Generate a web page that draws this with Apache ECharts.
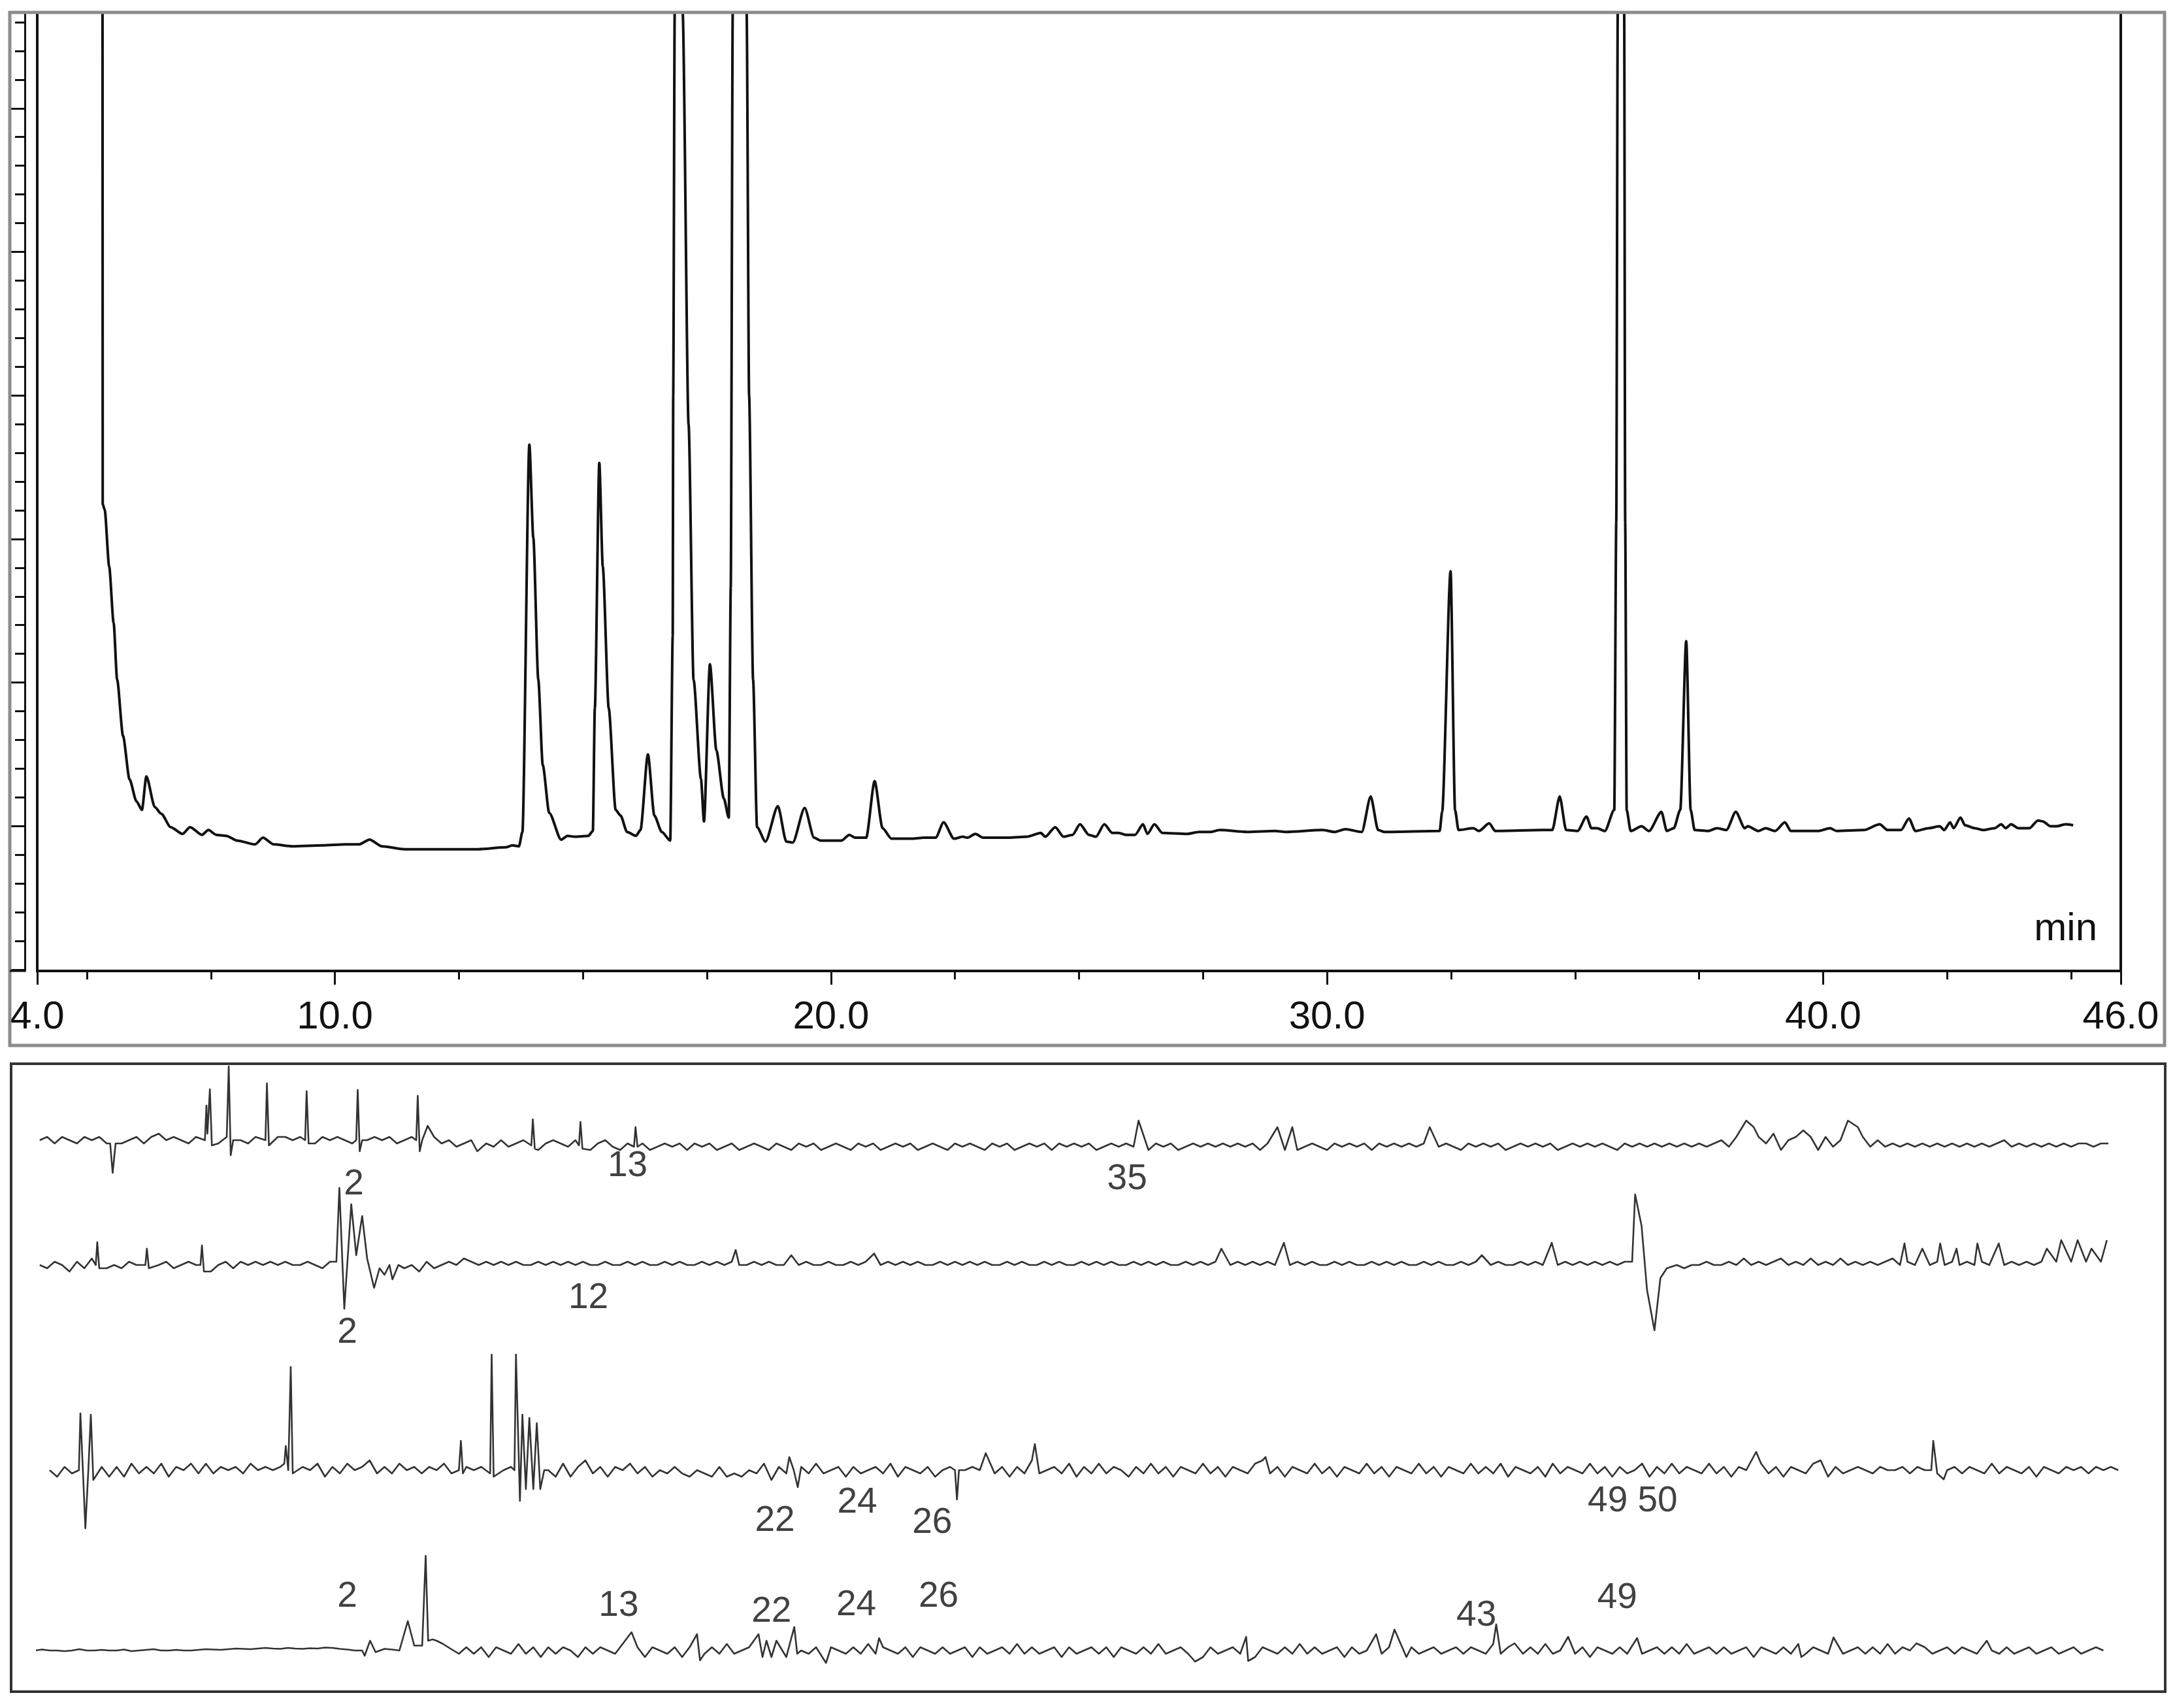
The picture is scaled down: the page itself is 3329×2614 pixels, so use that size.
<!DOCTYPE html>
<html>
<head>
<meta charset="utf-8">
<title>Chromatogram</title>
<script src="https://cdn.jsdelivr.net/npm/echarts/dist/echarts.min.js"></script>
<style>
  html, body { margin: 0; padding: 0; background: #fff; }
  #chart { width: 3329px; height: 2614px; }
</style>
</head>
<body>
<div id="chart"></div>
<script>
// ---- top chromatogram: [time (min), signal] ----
var topTrace = [
  [5.31,200],[5.32,48.7],[5.36,48.1],[5.45,42.2],[5.54,36.3],[5.61,30.4],[5.73,24.5],[5.86,20.0],[6.00,17.7],[6.11,16.8],
  [6.20,20.3],[6.37,17.1],[6.50,16.4],[6.69,15.0],[6.93,14.3],[7.08,15.0],[7.32,14.2],[7.45,14.7],[7.61,14.2],[7.81,14.1],
  [8.03,13.6],[8.39,13.2],[8.55,13.9],[8.77,13.2],[9.14,13.0],[9.75,13.1],[10.21,13.2],[10.48,13.2],[10.70,13.7],[10.95,13.0],
  [11.41,12.7],[11.96,12.7],[12.88,12.7],[13.44,12.9],[13.58,13.1],[13.71,13.0],[13.78,14.5],[13.92,54.9],[14.00,45.2],[14.10,30.4],
  [14.19,21.5],[14.32,16.5],[14.56,13.7],[14.69,14.1],[14.83,14.0],[15.11,14.1],[15.20,14.6],[15.24,27.4],[15.33,53.0],[15.40,42.2],
  [15.52,27.4],[15.66,16.8],[15.76,16.2],[15.89,14.5],[16.07,14.1],[16.16,14.7],[16.31,22.6],[16.44,16.2],[16.59,14.5],[16.76,13.6],
  [16.81,35],[16.82,60],[16.85,100],[16.93,170],[17.01,100],[17.13,57],[17.23,30.4],[17.38,20.0],[17.44,15.6],[17.56,32.0],
  [17.69,23.0],[17.84,18.0],[17.94,16.0],[17.98,40],[18.02,100],[18.15,300],[18.30,100],[18.35,60],[18.43,30.4],[18.51,15.0],
  [18.68,13.5],[18.93,17.2],[19.10,13.5],[19.23,13.4],[19.47,17.0],[19.66,13.9],[19.79,13.6],[20.21,13.6],[20.37,14.2],[20.49,13.9],
  [20.71,13.9],[20.88,19.8],[21.04,14.9],[21.22,13.8],[21.65,13.8],[21.87,13.9],[22.11,13.9],[22.27,15.5],[22.48,13.8],[22.66,14.0],
  [22.75,13.9],[22.91,14.3],[23.07,13.9],[23.58,13.9],[23.95,14.0],[24.23,14.4],[24.32,14.0],[24.52,15.0],[24.69,14.0],[24.87,14.2],
  [25.02,15.3],[25.20,14.2],[25.34,14.0],[25.51,15.3],[25.67,14.4],[25.80,14.4],[25.94,14.2],[26.13,14.2],[26.29,15.3],[26.38,14.3],
  [26.52,15.3],[26.68,14.4],[27.18,14.3],[27.42,14.5],[27.64,14.5],[27.84,14.7],[28.39,14.5],[28.95,14.6],[29.17,14.5],[29.91,14.7],
  [30.15,14.5],[30.37,14.8],[30.70,14.5],[30.88,18.2],[31.03,14.7],[31.16,14.5],[32.27,14.6],[32.32,16.6],[32.49,41.7],[32.58,16.8],
  [32.65,14.7],[32.95,14.9],[33.06,14.6],[33.27,15.4],[33.39,14.6],[34.35,14.7],[34.54,14.7],[34.69,18.2],[34.82,14.7],[35.05,14.6],
  [35.23,16.1],[35.33,14.9],[35.44,14.9],[35.60,14.6],[35.79,16.8],[35.83,46.8],[35.86,100],[35.92,200],[35.99,100],[36.01,46.8],
  [36.04,16.8],[36.12,14.6],[36.34,15.1],[36.49,14.6],[36.74,16.6],[36.85,14.6],[36.99,14.9],[37.12,16.8],[37.24,34.4],[37.33,16.8],
  [37.41,14.7],[37.68,14.6],[37.86,14.9],[38.05,14.7],[38.24,16.6],[38.42,14.9],[38.48,15.1],[38.70,14.6],[38.84,14.9],[39.03,14.6],
  [39.23,15.5],[39.35,14.6],[39.90,14.6],[40.14,14.9],[40.27,14.6],[40.82,14.7],[41.14,15.3],[41.30,14.7],[41.57,14.7],[41.73,15.9],
  [41.86,14.6],[42.13,14.9],[42.35,15.1],[42.44,14.7],[42.56,15.5],[42.63,14.9],[42.77,16.0],[42.86,15.2],[43.05,14.9],[43.23,14.7],
  [43.46,14.9],[43.59,15.3],[43.68,14.9],[43.79,15.3],[43.93,14.9],[44.16,14.9],[44.33,15.7],[44.43,15.6],[44.58,15.1],[44.71,15.1],
  [44.89,15.3],[45.04,15.2]
];

var topMinorTicks = [5, 7.5, 12.5, 15, 17.5, 22.5, 25, 27.5, 32.5, 35, 37.5, 42.5, 45];
var topMajorTicks = [4, 10, 20, 30, 40, 46];
var stripTicks = [0,1,2,3,4,5,6,7,8,9,10,11,12,13,14,15,16,17,18,19,20,21,22,23,24,25,26,27,28,29,30,31,32,33];
var stripMajorTicks = [0, 5, 10, 15, 20, 25, 30];

// ---- lower traces: noise sampled every lowerStep min from a start time, plus read peaks [time, value] ----
var lowerStep = 0.15;

var trace1Start = 4.05;
var trace1Noise = [
  0,1,-1,1,0,-1,1,0,1,-1,   0,-1,0,1,-1,1,2,0,1,0,   -1,1,0,1,-1,0,1,0,-1,1,
  0,-1,1,1,0,1,0,-1,1,0,    1,0,-1,1,0,1,0,1,-1,0,   1,0,2,1,-1,0,-2,-1,0,-3,
  -1,-2,0,-2,-1,0,-1,-3,-1,0,  -1,-2,0,-2,-3,-1,0,-2,-3,-1,  -2,-1,-3,-2,-1,-2,-1,-3,-1,-2,
  -1,-3,-2,-1,-3,-2,-1,-2,-3,-1,  -2,-3,-1,-2,-1,-3,-2,-1,-2,-3,  -1,-2,-1,-3,-2,-1,-2,-1,-3,-2,
  -1,-2,-3,-1,-2,-1,-2,-3,-1,-2,  -1,-3,-2,-1,-2,-1,-3,-1,-2,-1,  -2,-1,-3,-2,-1,-2,-1,-2,-1,-3,
  -1,-2,-1,-3,-2,-1,-2,-1,-2,-1,  -2,-1,-2,-1,-3,-1,-3,-1,-2,-1,  -2,-1,-2,-3,-1,-2,-1,-2,-1,-3,
  -1,-2,-1,-2,-1,-2,-1,-2,-2,-1,  -2,-3,-1,-2,-1,-2,-1,-3,-2,-1,  -2,-1,-2,-1,-3,-2,-1,-2,-1,-2,
  -1,-2,-3,-1,-2,-1,-2,-1,-2,-1,  -2,-1,-2,-1,-2,-1,0,-2,1,-1,  -3,1,-1,2,-3,0,1,-2,1,-3,
  1,-2,0,1,-3,1,-2,0,-2,-1,  -2,-1,-2,-1,-2,-1,-2,-1,-2,-1,  -2,-1,-2,-1,0,-2,-1,-2,-1,-2,
  -1,-2,-1,-2,-1,-1,-2,-1,-1
];
var trace1Peaks = [
  [5.47,-1],[5.52,-10],[5.58,-1],
  [7.38,0],[7.41,10.6],[7.43,2],[7.48,15.6],[7.52,-1.6],
  [7.82,1],[7.86,22.6],[7.90,-4.6],[7.95,0],
  [8.60,0],[8.63,17.4],[8.67,-1.6],
  [9.40,0],[9.43,15],[9.47,-1],
  [10.43,0],[10.46,15.4],[10.50,-3.4],[10.55,0],
  [11.64,0],[11.67,13.6],[11.71,-3.4],[11.76,0],[11.87,4.4],
  [12.87,-3.4],
  [13.96,-1.6],[13.99,6.4],[14.03,-2.6],
  [14.92,-1.6],[14.95,5.6],[14.99,-2.6],
  [16.03,-2],[16.06,4],[16.10,-2],
  [26.20,6],[29.00,4],[29.15,-3],[29.30,4],[29.40,-3],[32.07,4],
  [38.45,6],[38.60,4],[39.60,3],[40.50,6],[40.70,4]
];

var trace2Start = 4.05;
var trace2Noise = [
  0,-1,1,0,-2,1,-1,2,0,-1,  0,-1,1,0,1,-1,0,1,-1,0,  1,0,1,-2,0,1,-1,1,0,1,
  0,1,0,1,0,0,1,0,-1,1,  0,-1,1,0,1,-1,-1,0,1,-1,  0,-2,1,-1,0,1,0,2,1,0,
  1,0,1,0,1,0,0,1,0,1,  0,1,0,1,0,0,1,0,0,1,  0,1,0,0,1,0,1,0,0,1,
  0,1,0,1,0,0,1,0,1,0,  0,1,0,1,0,0,1,0,0,1,  0,1,0,0,1,0,1,0,1,0,
  0,1,0,1,0,1,0,1,0,0,  1,0,1,0,0,1,0,1,0,0,  1,0,1,0,1,0,0,1,0,1,
  0,1,0,0,1,0,1,0,1,0,  0,1,0,1,0,1,0,1,0,1,  0,1,0,0,1,0,1,0,0,1,
  0,1,0,1,0,0,1,0,1,0,  0,1,0,1,0,0,1,0,0,1,  0,1,0,1,0,1,0,1,0,1,
  0,1,0,1,0,0,0,0,0,-1,  0,-1,0,0,1,0,0,1,0,2,  0,1,0,1,2,0,1,0,2,0,
  1,0,2,0,1,0,1,0,1,2,  0,1,0,1,0,1,0,1,0,1,  0,1,0,1,0,1,0,1,0,1,
  0,1,0,1,0,1,0,1,0
];
var trace2Peaks = [
  [5.18,0],[5.21,7],[5.25,-1],
  [6.18,0],[6.21,5],[6.25,-1],
  [7.29,0],[7.32,6],[7.36,-2],
  [10.03,1],[10.09,23.6],[10.19,-13.4],[10.33,18.6],[10.43,3],[10.55,15],[10.65,2],[10.79,-7],[10.90,-1],[11.00,-3],[11.16,-4.4],[11.28,0],
  [18.08,4.6],[19.20,3],[20.87,3.5],[27.87,5],[29.13,6.8],[33.12,3],[34.53,6.8],
  [36.15,1],[36.21,21.6],[36.34,12],[36.45,-7.6],[36.60,-20],[36.72,-4],[36.85,-1],
  [41.64,6.6],[42.00,5],[42.36,6.6],[42.69,5],[43.11,6.6],[43.54,6.6],[44.51,5],[44.80,7.6],[45.13,7.6],[45.41,5],[45.72,7.6]
];

var trace3Start = 4.25;
var trace3Noise = [
  0,-2,1,-1,0,2,-1,1,-2,1,  -2,2,-1,1,-1,2,-2,1,0,2,  -1,2,-1,1,0,1,-1,2,0,1,
  0,1,2,-1,1,0,2,-2,1,-1,  2,0,1,3,-1,1,-1,2,0,1,  -1,1,0,2,-1,0,1,0,1,-1,
  1,0,1,0,0,0,0,0,-2,2,  -2,1,3,-1,1,-2,1,0,2,-1,  1,-2,0,-1,1,-1,-2,0,-1,-2,
  1,-2,-1,-2,0,-1,2,-3,1,-1,  0,1,-1,2,-1,0,1,-2,1,-1,  0,1,-1,2,-2,1,0,-1,1,-2,
  0,1,-1,0,1,0,2,-1,1,-2,  1,-1,3,-1,0,1,-1,2,-2,1,  -1,2,-1,1,0,-2,1,-1,2,-1,
  1,-2,1,0,-1,2,-1,1,-2,1,  0,-1,2,3,-1,1,-2,1,0,-1,  2,-1,1,-2,1,0,-1,2,-1,1,
  -2,1,0,-1,2,-1,1,-2,1,0,  -1,2,-1,1,-1,2,-2,1,0,-1,  1,-2,2,-1,1,0,-1,2,-1,1,
  -2,1,-1,0,2,-2,1,-1,2,-1,  1,0,-1,2,-1,1,-2,1,0,-1,  2,-1,1,-2,1,0,-1,2,3,-2,
  1,-1,0,1,0,-1,1,0,0,1,  -1,1,0,-1,1,0,1,-1,1,0,  -1,2,-1,1,0,-1,1,-2,1,0,
  -1,1,0,1,-1,1,0,1,0
];
var trace3Peaks = [
  [4.84,0],[4.87,17.4],[4.92,0],[4.97,-17.8],[5.03,0],[5.08,17],[5.13,-3],
  [8.98,2],[9.01,7.4],[9.06,0],[9.11,31.6],[9.15,-1],
  [12.50,0],[12.54,9],[12.58,-1],
  [13.13,-1],[13.16,35.4],[13.20,-2],
  [13.62,0],[13.65,35.4],[13.73,-9.4],[13.78,17],[13.85,-5.8],[13.92,16],[14.00,-5.8],[14.07,14.4],[14.14,-5.8],[14.22,0],
  [19.16,4],[19.33,-5.2],
  [22.50,0],[22.54,-9],[22.58,0],
  [23.12,5.2],[24.11,8],[28.76,4],
  [38.65,5.6],
  [42.18,0],[42.22,9],[42.30,-1],[42.43,-2.8]
];

var trace4Start = 3.95;
var trace4Noise = [
  0,0.3,0,0,-0.2,0,0.4,0,0,0.2,  0,0,0.3,-0.2,0,0.2,0.4,0,0,0.2,  0,0,0.2,0.4,0.3,0.2,0.4,0.6,0.5,0.4,
  0.6,0.8,0.6,0.5,0.8,0.6,0.5,0.7,0.6,0.9,  0.8,0.5,0.3,0,0,1,0,0.5,0.3,0,  0,0,0,0,3,0,1,-1,1,-1,
  1,-2,1,0,-1,2,-1,1,-2,1,  -1,1,0,-2,1,-1,1,0,-1,2,  -1,1,-2,1,0,-1,1,-2,1,0,
  -1,1,-1,2,-1,0,1,-2,2,-1,  1,-2,1,0,-1,1,-2,1,0,-1,  1,-1,2,-1,1,0,-1,1,-2,1,
  0,-1,1,-1,0,1,-2,1,-1,0,  1,-1,2,-1,1,-1,0,1,-2,1,  -1,0,1,-1,1,-2,1,0,-1,1,
  -1,2,-1,0,1,-1,1,-2,1,-1,  0,1,-1,1,-2,1,0,-1,1,-1,  2,-1,1,-1,0,1,-2,1,-1,0,
  1,-1,1,0,-1,1,-1,0,1,-1,  0,1,-1,1,0,-1,2,-1,1,0,  -1,1,-1,2,-1,0,1,-1,1,-2,
  1,0,-1,1,-1,2,-1,0,1,-1,  1,-1,2,-1,0,1,-1,1,-1,0,  1,-2,1,0,-1,1,-1,2,-1,1,
  0,-1,1,-1,0,1,-1,1,-1,2,  -1,1,0,-1,1,-1,0,1,-1,1,  0,-1,1,0,-1,1,-1,0,1,-1,
  0,1,-1,0,1,-1,0,1,0
];
var trace4Peaks = [
  [10.55,0],[10.60,-1.6],[10.71,3],[10.82,-0.5],
  [11.30,0],[11.47,9],[11.60,1.5],[11.76,1.5],[11.83,29],[11.88,3],[11.97,3.4],[12.18,2],[12.39,0],
  [15.98,5.6],[17.30,5],[17.36,-3],
  [18.54,5],[18.62,-2],[18.70,3],[18.80,-2],[18.90,3],[19.26,7.2],[19.32,-1],
  [19.90,-3.8],[20.97,3.8],
  [27.34,-3.4],[28.37,4.2],[28.41,-3.2],
  [30.99,5],[31.36,6.4],[31.60,-2],
  [33.41,8],[33.78,2.2],[34.86,4.2],[36.25,3.8],
  [39.56,-2],[40.21,4],[41.88,2.2],[43.30,3]
];

// peak numbers: [text, time, level]
var labels1 = [['2',10.38,-13.6],['13',15.90,-8],['35',25.97,-12]];
var labels2 = [['12',15.11,-10.2],['2',10.25,-20.8]];
var labels3 = [['22',18.87,-15.6],['24',20.53,-10],['26',22.04,-16.2],['49 50',36.16,-9.6]];
var labels4 = [['2',10.25,16.4],['13',15.72,13.6],['22',18.80,11.8],['24',20.51,13.8],['26',22.17,16.4],['43',33.01,10.6],['49',35.85,16]];

// baselines of the four lower traces (px) and font
var lowerBase = [1745, 1936, 2250, 2526];
var FONT = 'Liberation Sans, Arial, sans-serif';

function buildTrace(start, noise, peaks) {
    var pts = [];
    for (var i = 0; i < noise.length; i++) {
        var t = Math.round((start + i * lowerStep) * 1000) / 1000;
        var near = peaks.some(function (p) { return Math.abs(p[0] - t) < 0.055; });
        if (!near) pts.push([t, noise[i]]);
    }
    return pts.concat(peaks).sort(function (a, b) { return a[0] - b[0]; });
}

var lowerTraces = [
    buildTrace(trace1Start, trace1Noise, trace1Peaks),
    buildTrace(trace2Start, trace2Noise, trace2Peaks),
    buildTrace(trace3Start, trace3Noise, trace3Peaks),
    buildTrace(trace4Start, trace4Noise, trace4Peaks)
];
var lowerLabels = [labels1, labels2, labels3, labels4];

var grids = [{ left: 57, right: 83, top: 19, height: 1467, show: true, borderColor: '#111', borderWidth: 4, backgroundColor: 'transparent' }];
var xAxes = [
    { gridIndex: 0, type: 'value', min: 4, max: 46, position: 'bottom', offset: 20,
      axisLine: { show: true, lineStyle: { color: '#111', width: 4 } },
      axisTick: { show: true, customValues: topMinorTicks, length: 13, lineStyle: { color: '#111', width: 3 } },
      axisLabel: { show: false }, splitLine: { show: false } },
    { gridIndex: 0, type: 'value', min: 4, max: 46, position: 'bottom', offset: 20,
      axisLine: { show: false },
      axisTick: { show: true, customValues: topMajorTicks, length: 23, lineStyle: { color: '#111', width: 3 } },
      axisLabel: { show: true, customValues: topMajorTicks, showMinLabel: true, showMaxLabel: true, margin: 21,
                   fontSize: 60, fontFamily: FONT, color: '#111',
                   formatter: function (v) { return v.toFixed(1); } },
      splitLine: { show: false } }
];
var yAxes = [
    { gridIndex: 0, type: 'value', min: 0, max: 100, show: false, splitLine: { show: false } },
    { gridIndex: 0, type: 'value', min: -0.045, max: 33.34, position: 'left', offset: 19,
      axisLine: { show: true, lineStyle: { color: '#111', width: 3 } },
      axisTick: { show: true, customValues: stripTicks, length: 15, lineStyle: { color: '#111', width: 3 } },
      axisLabel: { show: false }, splitLine: { show: false } },
    { gridIndex: 0, type: 'value', min: -0.045, max: 33.34, position: 'left', offset: 19,
      axisLine: { show: false },
      axisTick: { show: true, customValues: stripMajorTicks, length: 21, lineStyle: { color: '#111', width: 3 } },
      axisLabel: { show: false }, splitLine: { show: false } }
];
var series = [{
    type: 'line', xAxisIndex: 0, yAxisIndex: 0, data: topTrace,
    symbol: 'none', showSymbol: false, silent: true,
    smooth: 0.25, smoothMonotone: 'x',
    lineStyle: { color: '#111', width: 4, join: 'round' }
}];

// each lower trace gets its own small grid: 1 unit = 5 px, zero on the trace baseline
lowerBase.forEach(function (b, k) {
    grids.push({ left: 57, right: 83, top: b - 80, height: 160 });
    xAxes.push({ gridIndex: k + 1, type: 'value', min: 4, max: 46, show: false, splitLine: { show: false } });
    yAxes.push({ gridIndex: k + 1, type: 'value', min: -16, max: 16, show: false, splitLine: { show: false } });
    series.push({
        type: 'line', xAxisIndex: k + 2, yAxisIndex: k + 3, data: lowerTraces[k],
        symbol: 'none', showSymbol: false, silent: true, clip: false,
        lineStyle: { color: '#333', width: 2.6, join: 'round' }
    });
    series.push({
        type: 'scatter', xAxisIndex: k + 2, yAxisIndex: k + 3, symbolSize: 1, silent: true, clip: false,
        itemStyle: { color: 'rgba(0,0,0,0)' },
        data: lowerLabels[k].map(function (l) { return { name: l[0], value: [l[1], l[2]] }; }),
        label: { show: true, position: 'inside', formatter: '{b}', fontSize: 55, fontFamily: FONT, color: '#111' }
    });
});

var chart = echarts.init(document.getElementById('chart'), null, { renderer: 'canvas' });
chart.setOption({
    animation: false,
    backgroundColor: '#fff',
    grid: grids,
    xAxis: xAxes,
    yAxis: yAxes,
    series: series,
    graphic: [
        { type: 'rect', z: 50, shape: { x: 15, y: 19, width: 3298, height: 1581 },
          style: { fill: 'none', stroke: '#8c8c8c', lineWidth: 5 } },
        { type: 'line', z: 50, shape: { x1: 15, y1: 1486, x2: 38, y2: 1486 },
          style: { stroke: '#111', lineWidth: 3 } },
        { type: 'rect', z: 50, shape: { x: 17, y: 1628, width: 3297, height: 961 },
          style: { fill: 'none', stroke: '#333', lineWidth: 4 } },
        { type: 'text', z: 50, x: 3210, y: 1422,
          style: { text: 'min', fontSize: 60, fontFamily: FONT, fill: '#111', align: 'right', verticalAlign: 'middle' } }
    ]
});
</script>
</body>
</html>
